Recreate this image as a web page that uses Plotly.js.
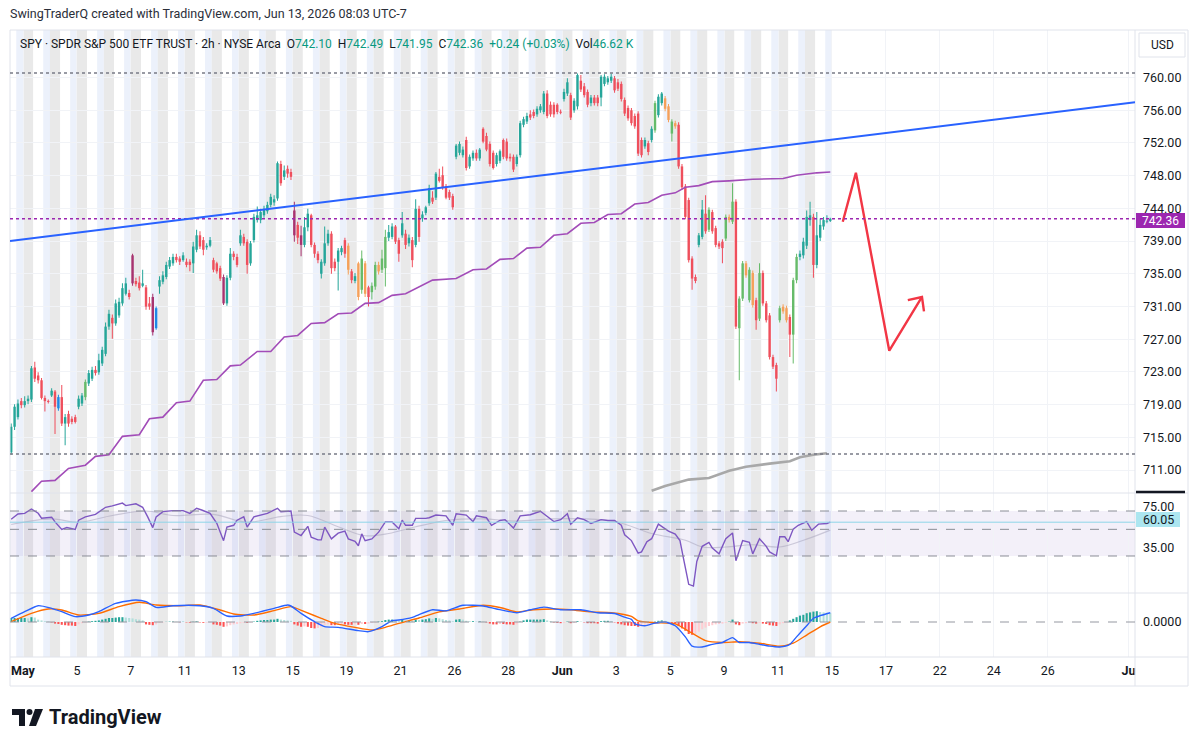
<!DOCTYPE html>
<html>
<head>
<meta charset="utf-8">
<script src="https://cdn.plot.ly/plotly-3.0.1.min.js"></script>
<style>
html,body{margin:0;padding:0;background:#ffffff;}
#chart{width:1200px;height:747px;}
</style>
</head>
<body>
<div id="chart"></div>
<script>
// ===================== DATA =====================
// Trading sessions shown (2h bars, extended hours, 8 bars per session; Apr 30 starts at its 5th bar)
const sessionDays = ['Apr 30','May 1','May 4','May 5','May 6','May 7','May 8','May 11','May 12','May 13','May 14','May 15',
  'May 18','May 19','May 20','May 21','May 22','May 26','May 27','May 28','May 29','Jun 1','Jun 2','Jun 3','Jun 4','Jun 5',
  'Jun 8','Jun 9','Jun 10','Jun 11','Jun 12'];

// x-axis labels: session number (Apr 30 = 0, future sessions continue) and text
const tickSession = [1,3,5,7,9,11,13,15,17,19,21,23,25,27,29,31,33,35,37,39,42];
const tickLabels  = ['<b>May</b>','5','7','11','13','15','19','21','26','28','<b>Jun</b>','3','5','9','11','15','17','22','24','26','<b>Ju</b>'];

// price axis labels (as displayed, evenly spaced from 760 to 711)
const priceTickText = ['760.00','756.00','752.00','748.00','744.00','739.00','735.00','731.00','727.00','723.00','719.00','715.00','711.00'];

const opens = [
 713.2,716.4,717.6,719.6,
 719.1,719.6,719.8,723.8,722.8,722.2,720.0,719.6,
 720.3,720.8,718.7,720.1,716.8,718.0,717.4,717.6,
 718.9,719.3,720.1,721.8,722.4,723.5,723.2,724.3,
 725.5,728.9,730.0,729.3,730.3,731.8,733.0,733.1,
 737.8,734.6,734.4,734.0,733.8,731.8,732.6,728.7,
 733.9,734.5,735.1,736.4,736.8,737.6,737.4,737.2,
 737.0,737.0,736.8,738.5,740.3,739.7,738.8,739.0,
 737.2,736.8,736.2,735.1,731.8,735.0,738.0,737.6,
 739.3,740.1,739.5,736.8,739.7,742.2,742.2,742.8,
 743.3,744.1,744.4,744.9,749.2,747.6,748.6,748.2,
 743.4,741.6,740.3,739.1,741.3,742.8,739.1,738.0,
 735.5,736.8,739.3,740.5,737.0,737.0,738.2,739.7,
 739.0,735.8,734.6,736.8,733.5,736.8,733.8,733.2,
 733.9,736.6,736.0,736.2,740.0,740.1,741.4,739.7,
 740.3,740.5,739.3,739.7,739.1,743.6,742.4,743.1,
 744.3,745.0,745.0,747.6,747.8,746.4,745.7,745.2,
 750.1,750.6,750.3,752.2,748.9,749.9,750.6,749.9,
 753.6,752.7,751.7,750.6,749.2,749.6,752.2,752.0,
 750.1,750.1,749.2,750.3,754.1,754.5,755.4,755.7,
 755.4,755.9,755.7,758.0,756.6,756.6,756.6,755.7,
 757.3,758.0,757.8,755.9,756.4,759.6,758.9,758.2,
 756.8,757.5,757.5,757.5,759.2,759.4,759.6,759.9,
 759.4,759.2,757.2,756.2,755.9,755.2,755.5,752.2,
 751.4,751.8,752.2,753.4,755.3,756.8,757.4,756.4,
 753.0,754.3,754.1,748.9,746.4,744.7,737.4,735.1,
 739.1,740.1,743.0,741.0,743.2,741.2,739.3,739.5,
 739.9,742.6,742.0,744.5,728.7,732.4,736.8,732.2,
 735.6,732.2,729.9,735.6,731.8,730.3,725.1,724.1,
 729.7,731.4,731.2,730.1,727.9,734.7,737.6,737.8,
 739.0,742.2,742.6,736.6,740.0,741.4,742.0,742.10];

const highs = [
 716.8,719.2,719.8,720.0,
 720.2,720.3,724.0,724.5,723.2,722.5,720.3,719.8,
 721.2,721.0,720.4,721.6,718.0,718.4,717.7,717.9,
 720.3,720.6,722.3,723.5,723.9,724.0,725.5,726.4,
 729.4,731.0,730.4,732.3,732.5,734.3,735.0,733.5,
 738.0,735.0,735.2,736.0,734.1,732.6,733.0,731.4,
 735.2,735.8,737.0,737.6,738.0,738.0,737.7,738.2,
 737.4,737.3,739.5,741.0,740.8,740.1,739.3,740.1,
 737.5,737.0,736.5,735.4,735.3,738.7,738.3,738.0,
 741.0,740.5,739.8,739.6,743.0,743.9,743.6,744.0,
 744.5,745.5,745.3,749.5,749.6,749.0,749.0,748.6,
 744.5,742.0,741.5,742.6,743.6,743.0,739.4,738.3,
 737.3,741.4,741.0,740.8,737.4,738.7,739.0,740.0,
 739.3,736.1,735.6,737.0,738.4,737.1,734.0,734.4,
 737.0,737.0,738.5,741.0,741.6,741.8,741.6,740.0,
 743.2,741.0,740.4,740.1,744.8,744.0,743.3,744.0,
 746.6,745.8,748.2,748.6,748.9,746.7,746.0,745.5,
 751.7,752.0,751.4,752.6,750.4,750.9,751.0,751.2,
 753.8,753.1,752.0,750.9,750.6,751.0,752.4,752.4,
 750.5,750.4,750.4,754.6,755.1,755.6,755.9,756.0,
 756.4,756.7,758.3,758.4,757.0,756.9,756.8,756.0,
 758.6,759.9,758.1,757.4,760.5,760.3,759.3,758.5,
 757.8,757.8,757.8,760.3,760.4,760.2,760.5,760.2,
 759.8,759.5,757.5,756.5,756.2,755.5,755.8,752.5,
 752.5,752.1,753.9,757.1,757.9,758.2,757.7,756.7,
 754.8,754.6,754.4,749.2,746.7,745.0,737.7,735.4,
 740.6,744.7,745.3,743.8,743.5,741.5,739.6,739.8,
 742.9,742.9,746.8,744.8,732.7,737.1,737.1,736.3,
 735.9,732.5,736.8,735.9,732.1,730.6,725.4,724.4,
 731.5,731.7,731.5,730.4,735.0,738.0,738.4,740.0,
 743.4,744.5,743.0,743.2,742.4,742.6,742.8,742.49];

const lows = [
 712.9,716.0,717.3,718.7,
 718.8,719.2,719.5,722.0,721.8,719.8,718.3,719.3,
 720.1,715.5,718.4,716.5,714.1,716.4,716.7,716.8,
 718.6,719.0,719.7,721.5,722.1,722.8,722.9,724.0,
 725.2,728.5,727.4,729.0,730.0,731.5,732.8,732.3,
 734.0,733.9,733.4,733.8,731.0,731.0,727.8,728.5,
 733.0,734.2,734.8,736.1,736.5,736.9,736.6,737.0,
 736.3,735.8,735.6,738.2,738.6,737.8,738.5,738.8,
 735.7,735.5,734.6,731.6,731.5,734.7,737.2,736.3,
 739.0,739.0,735.5,736.5,739.4,741.9,741.8,742.5,
 743.0,743.8,744.0,744.6,746.5,747.2,747.5,747.2,
 739.5,739.2,737.7,738.8,740.8,738.8,737.5,736.8,
 734.9,736.5,739.0,735.5,735.8,733.4,737.8,737.5,
 735.4,734.3,734.3,732.2,733.0,732.6,731.4,732.3,
 733.5,735.4,735.6,733.9,739.6,739.8,739.2,737.0,
 740.0,738.6,738.9,736.3,738.8,739.5,742.0,742.8,
 744.0,744.2,744.7,746.9,746.0,744.8,744.7,743.5,
 749.8,750.3,750.0,748.4,748.6,749.6,749.6,749.6,
 751.8,750.8,748.9,748.5,748.9,749.3,749.8,749.6,
 749.5,748.2,748.9,750.0,753.8,754.2,754.7,754.9,
 755.1,755.6,755.4,754.9,755.1,755.0,755.4,755.4,
 757.0,757.7,754.7,755.6,756.0,758.2,757.5,756.3,
 756.4,756.5,756.4,756.4,758.9,759.1,759.3,758.1,
 758.3,757.0,755.2,754.6,754.0,753.6,750.2,750.0,
 751.1,750.3,751.9,753.1,755.0,756.5,755.8,754.4,
 752.0,753.6,748.6,746.0,742.3,736.9,733.5,734.3,
 738.8,739.8,740.5,740.7,740.5,738.8,738.6,736.8,
 739.6,741.9,741.7,728.6,722.2,732.1,735.0,731.9,
 731.3,728.5,729.6,731.5,729.4,724.8,723.6,720.8,
 729.4,730.5,729.4,725.1,724.3,734.3,737.2,737.4,
 738.6,741.5,735.0,736.2,739.6,741.0,741.8,741.95];

const closes = [
 716.4,718.9,719.3,719.1,
 719.6,719.9,723.7,722.4,722.2,720.0,719.6,719.5,
 720.9,718.9,720.1,716.8,717.6,716.8,717.0,717.0,
 719.9,720.3,722.0,723.1,723.5,723.1,724.7,726.0,
 728.9,730.5,729.3,731.8,732.0,733.7,734.3,732.6,
 734.3,734.2,733.7,734.3,731.4,731.4,728.2,731.2,
 734.7,735.3,736.6,737.2,737.6,737.2,737.0,737.8,
 736.6,736.6,738.9,740.3,738.9,738.5,739.0,739.7,
 736.0,735.8,734.9,731.8,735.0,738.0,737.6,736.6,
 740.3,739.3,736.6,739.3,742.6,742.8,743.2,743.6,
 744.1,745.1,744.8,749.3,746.8,748.4,748.0,747.6,
 740.3,740.0,739.1,741.3,743.0,739.1,738.0,737.2,
 737.0,739.3,740.5,736.2,736.2,738.4,738.7,738.0,
 736.0,734.7,735.2,732.6,737.4,733.0,732.6,734.0,
 736.6,735.8,737.4,740.1,740.7,741.4,739.5,738.0,
 741.8,739.1,740.0,737.2,743.6,740.1,742.9,743.8,
 746.2,744.5,748.0,747.1,746.2,745.0,745.0,743.8,
 751.5,751.7,751.0,748.7,750.1,750.6,749.9,751.0,
 752.0,751.0,749.2,748.7,750.3,750.8,750.1,749.9,
 749.9,748.5,750.1,754.3,754.8,755.2,755.0,755.2,
 756.1,756.4,758.0,755.2,755.4,755.4,755.7,755.6,
 758.2,759.4,755.0,757.1,760.3,758.5,757.8,756.6,
 757.5,756.8,756.8,760.1,760.1,759.9,760.1,758.4,
 758.6,757.3,755.5,754.9,754.3,753.9,750.5,750.3,
 752.2,750.7,753.6,756.8,757.6,758.0,756.1,754.7,
 754.5,753.9,748.9,746.3,742.6,737.2,734.9,734.6,
 740.3,743.5,740.8,743.5,740.8,739.1,738.9,738.7,
 742.6,742.2,744.5,728.9,732.4,736.8,735.3,736.0,
 731.6,729.7,735.6,731.8,729.7,725.1,723.9,722.4,
 731.2,730.8,729.7,727.9,734.7,737.6,738.0,739.5,
 742.6,742.8,736.6,740.3,741.6,742.2,742.12,742.36];

// candle colour overrides seen in the picture (b = blue, p = purple, G = light green, o = orange)
const candleColorOverride = {14:'b',43:'b',36:'p',42:'p',63:'p',84:'p',86:'p',
  22:'G',104:'G',107:'G',108:'G',110:'G',111:'G',191:'G',196:'G',207:'G',212:'G',214:'G',216:'G',217:'G',219:'G',222:'G',228:'G',232:'G',233:'G',
  100:'o',103:'o',105:'o',109:'o',194:'o',195:'o',197:'o',213:'o',218:'o',220:'o',229:'o',230:'o'};

// purple moving average (bar index, value)
const maBar = [6,9,13,17,22,25,29,33,38,41,45,49,53,57,61,65,68,73,77,81,85,89,93,97,101,105,109,113,117,121,125,132,137,141,145,149,153,157,161,165,169,173,177,181,185,189,193,197,200,204,208,213,220,229,233,239,243];
const maVal = [708.3,709.6,709.7,711.2,711.6,712.7,712.9,715.2,715.4,717.4,717.6,719.4,719.6,722.2,722.3,724.0,724.1,725.8,725.8,727.6,727.8,729.3,729.4,730.5,730.6,731.8,731.9,732.8,733.0,733.9,734.7,734.9,736.0,736.1,737.3,737.4,738.7,738.8,740.3,740.5,741.8,741.9,742.9,743.0,744.2,744.4,745.3,745.6,746.3,746.5,747.0,747.1,747.3,747.4,747.8,748.1,748.2];

// grey moving average
const ma2Bar = [190,194,201,207,213,218,225,231,234,238,242];
const ma2Val = [708.4,709.0,709.8,710.0,710.9,711.4,711.8,712.1,712.6,712.9,713.1];

// horizontal levels
const levelTop = 760.56, levelLast = 742.36, levelBottom = 713.0;
// blue trend line (bar index, price) at both chart edges
const trendBar = [-0.356, 333.4];
const trendVal = [739.6, 756.9];
// red projected path drawing
const pathBar = [246.7, 250.6, 260.5, 270.2];
const pathVal = [742.0, 748.1, 725.9, 732.6];
const headBar = [266.0, 270.2, 270.8];
const headVal = [732.2, 732.6, 730.8];

// RSI
const rsiBar = [0,2,4,6,8,9,12,13,15,16.5,19,20,22,25,28,30,33,34,37,39,40.5,42,43,45,48,51,53,55,56.5,59,61,63,64,66,67,69,70,72,76,79,80,83,84,86,88,89,91,92,93,95,97,98,99,100,102,103,104,105,107,109,111,113,115,116,117,119,120,123,124,126,129,131,132,135,137,138,141,142.5,145,146.5,149,151,154,157,159,161,163,165,166,168,170,172,175,177,179,181,182,184,186,187,188.6,190,192,195,197,198.4,199.4,201,202.4,203.4,205,207,208,210,212,214,215,216,217,219,220,222,224,225,227,228,229.5,230.5,232,233.5,236,237.5,239.5,242,243];
const rsiVal = [62.7,67.3,67.9,71.8,68,63.6,64.5,60.3,53.6,55.3,53.6,61.8,64.8,67,73.3,74.5,77,74.8,76.4,73.3,64.8,55.2,64.8,69.4,70.3,70.3,67.9,72.4,70.9,67.9,59,43.6,55.7,57.3,61.8,64.8,55.7,64.8,67.9,72.4,69.4,70,51.2,48.2,56.4,46.7,44.3,44.3,55.7,45.2,50.3,51.2,52.1,45.2,43,39.1,49.7,43.6,45.2,51.2,60.3,60.3,54.3,61.8,57.3,57.3,63.4,63.4,64,66.4,65.7,57.3,67.5,66.4,60.6,65.7,64,57.3,61.6,62.3,54.9,65.7,66.7,69.8,65.1,60.6,62.3,67.5,58.3,64,62.3,58.9,62.3,61.6,61.6,57.3,48.8,43.7,32.5,33.6,42.7,45.4,58.3,52.2,49.5,43.7,28.5,4.8,3.2,25.2,38.6,42.1,37,31.9,45.4,50.5,25.8,35.3,43.7,42.1,31.9,45.4,38.6,33.6,30.2,47.1,47.1,42.7,53.9,57.3,60.6,52.9,58.3,58.9,60.05];
const rsiMaBar = [0,12,20,30,40,48,60,70,80,88,97,105,112,120,130,140,150,160,170,180,190,200,205,212,220,228,236,243];
const rsiMaVal = [58,63,60,66,70,66,67,60,65,66,56,48,50,56,62,63,61,63,63,60,50,44,38,38,40,38,45,53];
const rsiLevels = [70, 53.7, 30];
const rsiLast = 60.05;
const rsiTickText = ['75.00','35.00'];
const rsiTickVals = [73.6, 37.1];

// MACD
const macdBar = [0,4,8,12,15,19,23,26,31,37,40,43,48,56,60,64,68,72,78,82,83,86,90,93,97,103,106,110,113,115,119,121,125,129,134,140,144,150,154,158,163,169,174,179,182,184,185,188,191,194,197,200,202,205,208,211,214,216,219,222,225,228,231,233,236,238,240,243];
const macdVal = [0.46,1.29,2.04,1.71,1.29,0.67,0.87,1.29,2.33,2.75,2.54,1.83,2.04,2.04,1.71,0.75,0.75,1.08,1.71,2.12,2.0,1.08,0.04,-0.58,-0.67,-1.08,-1.21,-0.58,0.17,0.25,0.58,0.93,1.53,1.40,2.09,2.0,1.63,1.16,1.53,1.86,1.53,1.53,1.16,1.07,0.6,0.33,-0.23,-0.47,-0.14,0,-0.47,-1.86,-3.02,-3.12,-2.79,-2.56,-1.95,-2.56,-2.56,-2.79,-3.02,-3.12,-2.79,-1.86,-0.47,0.47,0.79,1.16];
const signalBar = [0,6,11,15,20,26,32,38,43,50,56,62,66,72,78,83,87,92,96,102,107,111,115,121,127,133,140,145,150,155,161,166,172,178,184,186,191,197,202,206,211,216,222,228,232,236,240,243];
const signalVal = [0.04,1.08,1.62,1.5,0.87,1.08,1.92,2.46,2.12,2.04,2.12,1.5,1.0,0.87,1.42,1.92,1.29,0.46,-0.17,-0.67,-1.0,-0.67,-0.17,0.5,1.26,1.63,2.09,1.81,1.26,1.53,1.63,1.53,1.26,1.16,0.7,0.14,-0.09,-0.23,-1.4,-2.33,-2.56,-2.46,-2.65,-3.02,-2.65,-1.63,-0.6,0];
const macdHist = [
 0.5,0.5,0.5,0.5,
 0.5,0.45,0.6,0.55,0.3,0.2,0.1,0.05,
 -0.05,-0.2,-0.25,-0.35,-0.4,-0.45,-0.45,-0.5,
 -0.3,-0.15,-0.05,0.05,0.1,0.15,0.2,0.3,
 0.4,0.5,0.5,0.55,0.6,0.6,0.55,0.5,
 0.45,0.35,0.3,0.2,-0.3,-0.35,-0.4,-0.3,
 -0.1,-0.05,0.02,0.05,0.05,0.02,-0.03,0.03,
 -0.05,-0.08,0.03,0.08,-0.05,-0.1,-0.08,-0.05,
 -0.3,-0.35,-0.45,-0.6,-0.55,-0.4,-0.3,-0.25,
 -0.15,-0.1,-0.1,-0.05,0.05,0.15,0.2,0.25,
 0.25,0.3,0.3,0.4,0.3,0.25,0.2,0.15,
 -0.3,-0.45,-0.6,-0.55,-0.6,-0.75,-0.8,-0.75,
 -0.6,-0.4,-0.3,-0.4,-0.4,-0.3,-0.25,-0.3,
 -0.35,-0.35,-0.3,-0.35,-0.25,-0.25,-0.2,-0.1,
 -0.05,0.05,0.1,0.25,0.3,0.3,0.25,0.2,
 0.25,0.2,0.2,0.15,0.3,0.25,0.3,0.35,
 0.45,0.4,0.5,0.45,0.35,0.25,0.2,0.1,
 0.3,0.35,0.3,0.15,0.1,0.1,0.05,0.08,
 0.05,-0.05,-0.2,-0.3,-0.3,-0.25,-0.25,-0.3,
 -0.3,-0.35,-0.3,0.05,0.2,0.3,0.3,0.3,
 0.3,0.3,0.35,0.2,0.1,-0.05,-0.1,-0.15,
 -0.1,0.05,-0.15,-0.1,0.1,0.05,-0.05,-0.15,
 -0.15,-0.15,-0.2,0.1,0.15,0.15,0.1,-0.05,
 -0.2,-0.3,-0.4,-0.45,-0.5,-0.5,-0.6,-0.55,
 -0.45,-0.4,-0.3,0.05,0.15,0.2,0.15,0.05,
 -0.1,-0.2,-0.5,-0.8,-1.1,-1.5,-1.6,-1.5,
 -1.2,-0.9,-0.7,-0.5,-0.4,-0.3,-0.25,-0.2,
 -0.1,0.05,0.3,-0.3,-0.4,-0.2,-0.15,-0.1,
 -0.15,-0.2,-0.1,-0.2,-0.25,-0.4,-0.45,-0.5,
 -0.3,-0.15,-0.05,0.2,0.4,0.6,0.8,0.9,
 1.1,1.2,1.3,1.35,1.25,1.2,1.15,1.1];

// ===================== STYLE / LAYOUT =====================
const FONT = "Roboto, 'Liberation Sans', Arial, sans-serif";
const TXT = '#131722';
const COL = {g:'#26a69a', r:'#ef4f5c', G:'#66bb6a', o:'#f5a05a', p:'#a8336f', b:'#1e88e5'};
const PRE_BG = '#e9e9e9', POST_BG = '#ecf1fb';
const BARS_PER_DAY = 8, FIRST_OFFSET = 4;

const n = closes.length;
const idx = Array.from({length:n}, (_, i) => i);
const candleColors = idx.map(i => COL[candleColorOverride[i] || (closes[i] >= opens[i] ? 'g' : 'r')]);

// pixel helpers for paper coordinates (plot area: x 10..1135, y 30..657)
const L = 10, R = 65, T = 30, B = 90, W = 1200, H = 747;
const PW = W - L - R, PH = H - T - B;
const XP = px => (px - L) / PW;
const YP = py => (H - B - py) / PH;

const xRange = [-0.356, 333.4];
const tickVals = tickSession.map(k => BARS_PER_DAY * k - FIRST_OFFSET - 0.5);
const priceTickVals = priceTickText.map((t, k) => 760 - k * (49 / 12));

const traces = [];
// wicks
traces.push({type:'bar', x:idx, base:lows, y:idx.map(i => highs[i] - lows[i]), width:0.3,
  marker:{color:candleColors, line:{width:0}}, hoverinfo:'skip', xaxis:'x', yaxis:'y'});
// bodies
traces.push({type:'bar', x:idx, base:idx.map(i => Math.min(opens[i], closes[i])),
  y:idx.map(i => Math.max(Math.abs(closes[i] - opens[i]), 0.13)), width:0.72,
  marker:{color:candleColors, line:{width:0}}, hoverinfo:'skip', xaxis:'x', yaxis:'y'});
// moving averages
traces.push({type:'scatter', mode:'lines', x:maBar, y:maVal, line:{color:'#a24cb8', width:1.6}, hoverinfo:'skip', xaxis:'x', yaxis:'y'});
traces.push({type:'scatter', mode:'lines', x:ma2Bar, y:ma2Val, line:{color:'#a8a8a8', width:2.6}, hoverinfo:'skip', xaxis:'x', yaxis:'y'});
// red projection drawing
traces.push({type:'scatter', mode:'lines', x:pathBar, y:pathVal, line:{color:'#f23645', width:2.4}, hoverinfo:'skip', cliponaxis:false, xaxis:'x', yaxis:'y'});
traces.push({type:'scatter', mode:'lines', x:headBar, y:headVal, line:{color:'#f23645', width:2.4}, hoverinfo:'skip', cliponaxis:false, xaxis:'x', yaxis:'y'});
// RSI
traces.push({type:'scatter', mode:'lines', x:rsiMaBar, y:rsiMaVal, line:{color:'rgba(170,165,190,0.55)', width:1.2, shape:'spline'}, hoverinfo:'skip', xaxis:'x', yaxis:'y2'});
traces.push({type:'scatter', mode:'lines', x:rsiBar, y:rsiVal, line:{color:'#7e57c2', width:1.4}, hoverinfo:'skip', xaxis:'x', yaxis:'y2'});
// MACD histogram
const histColors = macdHist.map((h, i) => {
  const prev = i > 0 ? macdHist[i - 1] : h;
  if (h >= 0) return h >= prev ? '#26a69a' : '#b2dfdb';
  return h <= prev ? '#ff5252' : '#ffcdd2';
});
traces.push({type:'bar', x:idx, y:macdHist, width:0.62, marker:{color:histColors, line:{width:0}}, hoverinfo:'skip', xaxis:'x', yaxis:'y3'});
traces.push({type:'scatter', mode:'lines', x:signalBar, y:signalVal, line:{color:'#ff6d00', width:1.4, shape:'spline', smoothing:0.6}, hoverinfo:'skip', xaxis:'x', yaxis:'y3'});
traces.push({type:'scatter', mode:'lines', x:macdBar, y:macdVal, line:{color:'#2962ff', width:1.4, shape:'spline', smoothing:0.6}, hoverinfo:'skip', xaxis:'x', yaxis:'y3'});

const shapes = [];
// session background bands
sessionDays.forEach((d, k) => {
  const s = BARS_PER_DAY * k - FIRST_OFFSET;
  if (s >= 0) shapes.push({type:'rect', xref:'x', yref:'paper', x0:s - 0.5, x1:s + 2.5, y0:0, y1:1, fillcolor:PRE_BG, line:{width:0}, layer:'below'});
  shapes.push({type:'rect', xref:'x', yref:'paper', x0:s + 5.5, x1:s + 7.5, y0:0, y1:1, fillcolor:POST_BG, line:{width:0}, layer:'below'});
});
const frame = '#e0e3eb';
const hline = (py, x0, x1, c, w) => ({type:'line', xref:'paper', yref:'paper', x0:XP(x0), x1:XP(x1), y0:YP(py), y1:YP(py), line:{color:c, width:w || 1}});
const vline = (px, y0, y1, c, w) => ({type:'line', xref:'paper', yref:'paper', x0:XP(px), x1:XP(px), y0:YP(y0), y1:YP(y1), line:{color:c, width:w || 1}});
shapes.push(hline(30, 10, 1188, frame), hline(686, 10, 1188, frame), hline(493, 10, 1188, frame), hline(593, 10, 1188, frame), hline(657, 10, 1188, frame));
shapes.push(vline(10, 30, 686, frame), vline(1188, 30, 686, frame), vline(1135, 30, 686, frame));
// price levels
shapes.push({type:'line', xref:'paper', yref:'y', x0:0, x1:1, y0:levelTop, y1:levelTop, line:{color:'#787b86', width:1.5, dash:'dot'}});
shapes.push({type:'line', xref:'paper', yref:'y', x0:0, x1:1, y0:levelBottom, y1:levelBottom, line:{color:'#787b86', width:1.5, dash:'dot'}});
shapes.push({type:'line', xref:'paper', yref:'y', x0:0, x1:1, y0:levelLast, y1:levelLast, line:{color:'#9c27b0', width:1.6, dash:'dot'}});
// trend line
shapes.push({type:'line', xref:'x', yref:'y', x0:trendBar[0], x1:trendBar[1], y0:trendVal[0], y1:trendVal[1], line:{color:'#2962ff', width:2}});
// RSI band + levels
shapes.push({type:'rect', xref:'paper', yref:'y2', x0:0, x1:1, y0:rsiLevels[2], y1:rsiLevels[0], fillcolor:'rgba(126,87,194,0.09)', line:{width:0}, layer:'below'});
rsiLevels.forEach(v => shapes.push({type:'line', xref:'paper', yref:'y2', x0:0, x1:1, y0:v, y1:v, line:{color:'#8a8d96', width:1, dash:'dash'}}));
shapes.push({type:'line', xref:'paper', yref:'y2', x0:0, x1:1, y0:rsiLast, y1:rsiLast, line:{color:'#8fd6e8', width:1}});
// MACD zero
shapes.push({type:'line', xref:'paper', yref:'y3', x0:0, x1:1, y0:0, y1:0, line:{color:'#9598a1', width:1, dash:'dash'}});
// price tags
shapes.push({type:'rect', xref:'paper', yref:'paper', x0:XP(1136), x1:XP(1185), y0:YP(228), y1:YP(213), fillcolor:'#9c27b0', line:{width:0}});
shapes.push({type:'rect', xref:'paper', yref:'paper', x0:XP(1136), x1:XP(1180), y0:YP(527), y1:YP(512), fillcolor:'#ace6f0', line:{width:0}});
shapes.push({type:'rect', xref:'paper', yref:'paper', x0:XP(1139), x1:XP(1185), y0:YP(57), y1:YP(33), fillcolor:'#ffffff', line:{color:frame, width:1}});
shapes.push(hline(492, 1136, 1185, '#131722', 2.5));
// TradingView logo mark
const P = (px, py) => XP(px).toFixed(5) + ',' + YP(py).toFixed(5);
shapes.push({type:'path', xref:'paper', yref:'paper', path:'M' + P(12,709) + ' L' + P(25,709) + ' L' + P(25,726) + ' L' + P(19,726) + ' L' + P(19,715) + ' L' + P(12,715) + ' Z', fillcolor:TXT, line:{width:0}});
shapes.push({type:'circle', xref:'paper', yref:'paper', x0:XP(26.5), x1:XP(32.5), y0:YP(715), y1:YP(709), fillcolor:TXT, line:{width:0}});
shapes.push({type:'path', xref:'paper', yref:'paper', path:'M' + P(35,709) + ' L' + P(43,709) + ' L' + P(36,726) + ' L' + P(29,726) + ' Z', fillcolor:TXT, line:{width:0}});

const G = '#089981';
const sp = t => '<span style="color:' + G + '">' + t + '</span>';
const annotations = [
  {xref:'paper', yref:'paper', x:XP(8), y:YP(14), xanchor:'left', yanchor:'middle', showarrow:false,
   text:'SwingTraderQ created with TradingView.com, Jun 13, 2026 08:03 UTC-7', font:{family:FONT, size:12.5, color:'#2a2e39'}},
  {xref:'paper', yref:'paper', x:XP(18), y:YP(44), xanchor:'left', yanchor:'middle', showarrow:false,
   text:'SPY · SPDR S&amp;P 500 ETF TRUST · 2h · NYSE Arca  O' + sp('742.10') + '  H' + sp('742.49') + '  L' + sp('741.95') + '  C' + sp('742.36') + '  ' + sp('+0.24 (+0.03%)') + '  Vol' + sp('46.62 K'),
   font:{family:FONT, size:12, color:TXT}},
  {xref:'paper', yref:'paper', x:XP(1160.5), y:YP(221), xanchor:'center', yanchor:'middle', showarrow:false, text:'742.36', font:{family:FONT, size:12, color:'#ffffff'}},
  {xref:'paper', yref:'paper', x:XP(1158), y:YP(519.5), xanchor:'center', yanchor:'middle', showarrow:false, text:'60.05', font:{family:FONT, size:12.5, color:TXT}},
  {xref:'paper', yref:'paper', x:XP(1162), y:YP(45), xanchor:'center', yanchor:'middle', showarrow:false, text:'USD', font:{family:FONT, size:12, color:TXT}},
  {xref:'paper', yref:'paper', x:XP(47), y:YP(717), xanchor:'left', yanchor:'middle', showarrow:false, text:'<b>TradingView</b>', font:{family:FONT, size:20, color:TXT}}
];

const tickFont = {family:FONT, size:12.5, color:TXT};
const layout = {
  width:W, height:H, margin:{l:L, r:R, t:T, b:B},
  paper_bgcolor:'#ffffff', plot_bgcolor:'rgba(0,0,0,0)',
  showlegend:false, barmode:'overlay', hovermode:false,
  xaxis:{anchor:'y3', range:xRange, tickmode:'array', tickvals:tickVals, ticktext:tickLabels, tickfont:tickFont,
    showgrid:true, gridcolor:'#f1f3f7', zeroline:false, showline:false, ticks:'', ticklabelstandoff:4, fixedrange:true},
  yaxis:{domain:[YP(493), 1], range:[708.13, 765.93], side:'right', anchor:'x', tickmode:'array', tickvals:priceTickVals, ticktext:priceTickText,
    tickfont:tickFont, showgrid:true, gridcolor:'#f1f3f7', zeroline:false, showline:false, ticks:'', ticklabelstandoff:7, fixedrange:true},
  yaxis2:{domain:[YP(593), YP(493)], range:[-2.9, 86], side:'right', anchor:'x', tickmode:'array', tickvals:rsiTickVals, ticktext:rsiTickText,
    tickfont:tickFont, showgrid:false, zeroline:false, showline:false, ticks:'', ticklabelstandoff:7, fixedrange:true},
  yaxis3:{domain:[0, YP(593)], range:[-4.375, 3.625], side:'right', anchor:'x', tickmode:'array', tickvals:[0], ticktext:['0.0000'],
    tickfont:tickFont, showgrid:false, zeroline:false, showline:false, ticks:'', ticklabelstandoff:7, fixedrange:true},
  shapes:shapes, annotations:annotations
};

Plotly.newPlot('chart', traces, layout, {displayModeBar:false, staticPlot:true});
</script>
</body>
</html>
